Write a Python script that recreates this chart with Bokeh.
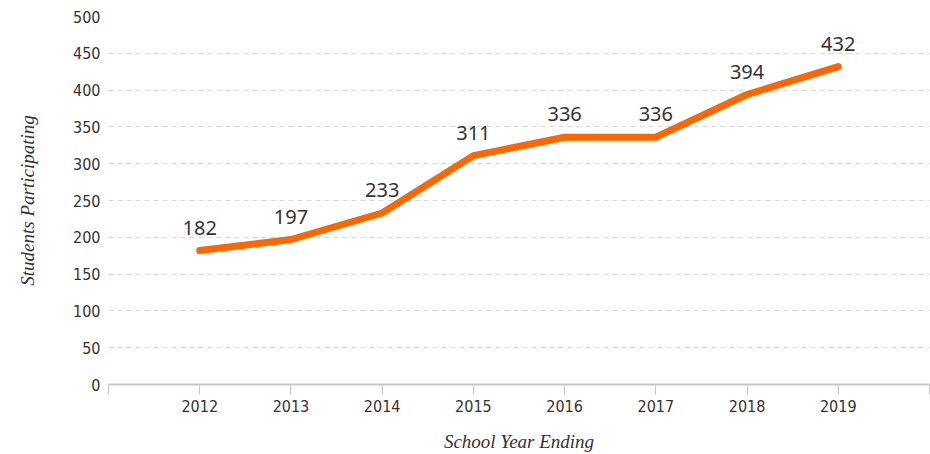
from bokeh.plotting import figure
from bokeh.models import ColumnDataSource, FixedTicker, Range1d
from bokeh.core.properties import value
from bokeh.embed import file_html
from bokeh.resources import INLINE

years = [2012, 2013, 2014, 2015, 2016, 2017, 2018, 2019]
students = [182, 197, 233, 311, 336, 336, 394, 432]
value_labels = [str(v) for v in students]
y_ticks = [0, 50, 100, 150, 200, 250, 300, 350, 400, 450, 500]

src = ColumnDataSource(dict(x=years, y=students, label=value_labels))

TICK_FONT = "'Liberation Sans Narrow', 'DejaVu Sans Condensed', 'Roboto', sans-serif"
LABEL_FONT = "'Liberation Serif', 'DejaVu Serif', serif"

p = figure(width=930, height=454, output_backend="svg", toolbar_location=None,
           x_range=Range1d(2011, 2020), y_range=Range1d(0, 500),
           min_border_left=108, min_border_right=1, min_border_top=16, min_border_bottom=10)
p.outline_line_color = None

p.line("x", "y", source=src, line_color="#ff6600", line_width=7, line_cap="round", line_join="round")
p.text("x", "y", text="label", source=src, text_align="center", text_baseline="middle",
       y_offset=-23, text_font_size="20px", text_color="#333333", text_font=value("Noto Sans"))

# x axis
xa = p.xaxis[0]
xa.ticker = FixedTicker(ticks=list(range(2011, 2021)))
xa.major_label_overrides = {2011: "", 2020: ""}
xa.axis_line_color = "#c8c8c8"
xa.axis_line_width = 2
xa.major_tick_line_color = "#c8c8c8"
xa.major_tick_out = 10
xa.major_tick_in = 0
xa.minor_tick_line_color = None
xa.major_label_text_font = TICK_FONT
xa.major_label_text_font_size = "16px"
xa.major_label_text_color = "#333333"
xa.major_label_standoff = 5
xa.axis_label = "School Year Ending"
xa.axis_label_text_font = LABEL_FONT
xa.axis_label_text_font_style = "italic"
xa.axis_label_text_font_size = "19px"
xa.axis_label_text_color = "#333333"
xa.axis_label_standoff = 16

# y axis
ya = p.yaxis[0]
ya.ticker = FixedTicker(ticks=y_ticks)
ya.axis_line_color = None
ya.major_tick_line_color = None
ya.minor_tick_line_color = None
ya.major_tick_out = 0
ya.major_tick_in = 0
ya.major_label_text_font = TICK_FONT
ya.major_label_text_font_size = "16px"
ya.major_label_text_color = "#333333"
ya.major_label_standoff = 8
ya.axis_label = "Students Participating"
ya.axis_label_text_font = LABEL_FONT
ya.axis_label_text_font_style = "italic"
ya.axis_label_text_font_size = "19px"
ya.axis_label_text_color = "#333333"
ya.axis_label_standoff = 32

p.xgrid.grid_line_color = None
p.ygrid.ticker = FixedTicker(ticks=y_ticks)
p.ygrid.grid_line_color = "#d9d9d9"
p.ygrid.grid_line_dash = "5 4"
p.ygrid.grid_line_width = 1

open("out.html", "w").write(file_html(p, INLINE))
